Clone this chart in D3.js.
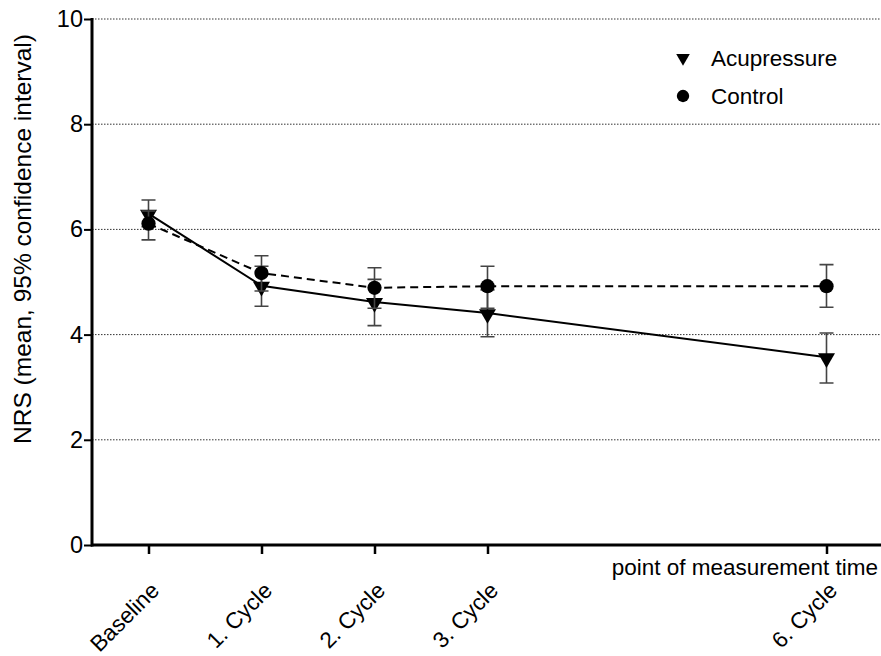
<!DOCTYPE html>
<html>
<head>
<meta charset="utf-8">
<script src="https://cdn.jsdelivr.net/npm/d3@7"></script>
<style>
  body { margin: 0; background: #fff; }
  text { font-family: "Liberation Sans", Arial, sans-serif; fill: #000; }
</style>
</head>
<body>
<script>
'use strict';

// time points (cycle number) and their labels
const cycles = [0, 1, 2, 3, 6];
const cycleLabels = ["Baseline", "1. Cycle", "2. Cycle", "3. Cycle", "6. Cycle"];

// Acupressure: mean and 95% CI
const acuMean = [6.30, 4.93, 4.62, 4.41, 3.57];
const acuLow  = [6.05, 4.54, 4.17, 3.96, 3.08];
const acuHigh = [6.56, 5.30, 5.05, 4.85, 4.03];

// Control: mean and 95% CI
const ctlMean = [6.11, 5.17, 4.89, 4.92, 4.92];
const ctlLow  = [5.80, 4.83, 4.50, 4.50, 4.52];
const ctlHigh = [6.35, 5.50, 5.27, 5.30, 5.33];

const yTicks = [0, 2, 4, 6, 8, 10];

const W = 881, H = 656, FS = "22.5px";
const svg = d3.select("body").append("svg")
    .attr("width", W)
    .attr("height", H);

const x = d3.scaleLinear().domain([-0.5, 6.5]).range([92, 883]);
const y = d3.scaleLinear().domain([0, 10]).range([545, 19]);

// dotted grid lines
svg.selectAll(".grid")
    .data(yTicks.filter(d => d > 0))
    .enter().append("line")
    .attr("x1", 92).attr("x2", W)
    .attr("y1", d => y(d)).attr("y2", d => y(d))
    .attr("stroke", "#333")
    .attr("stroke-width", 1)
    .attr("stroke-dasharray", "1.5,1.5");

// y axis
let yAxis = svg.append("g")
    .attr("transform", "translate(92,0)")
    .call(d3.axisLeft(y).tickValues(yTicks).tickSize(8).tickPadding(1).tickFormat(d3.format("d")));
yAxis.select(".domain").attr("stroke", "#000").attr("stroke-width", 3)
    .attr("d", "M0," + (y(10) - 1) + "V" + (y(0) + 1.5));
yAxis.selectAll(".tick line").attr("stroke", "#000").attr("stroke-width", 2);
yAxis.selectAll(".tick text").style("font-size", "23.5px")
    .style("font-family", "Liberation Sans, Arial, sans-serif");

// x axis
let xAxis = svg.append("g")
    .attr("transform", "translate(0," + y(0) + ")")
    .call(d3.axisBottom(x).tickValues(cycles).tickSize(9).tickFormat(""));
xAxis.select(".domain").attr("stroke", "#000").attr("stroke-width", 3)
    .attr("d", "M91,0H" + W);
xAxis.selectAll(".tick line").attr("stroke", "#000").attr("stroke-width", 2.5);

svg.selectAll(".xlab")
    .data(cycles)
    .enter().append("text")
    .attr("transform", d => "translate(" + (x(d) + 12) + ",592) rotate(-45)")
    .attr("text-anchor", "end")
    .style("font-size", FS)
    .text((d, i) => cycleLabels[i]);

svg.append("text")
    .attr("x", 878).attr("y", 575)
    .attr("text-anchor", "end")
    .style("font-size", FS)
    .text("point of measurement time");

svg.append("text")
    .attr("transform", "translate(31,239) rotate(-90)")
    .attr("text-anchor", "middle")
    .style("font-size", "24.5px")
    .text("NRS (mean, 95% confidence interval)");

// series
const series = [
    { name: "Acupressure", mean: acuMean, low: acuLow, high: acuHigh, dash: null, sym: d3.symbolTriangle, rot: 180 },
    { name: "Control", mean: ctlMean, low: ctlLow, high: ctlHigh, dash: "8,5", sym: d3.symbolCircle, rot: 0 }
];

const line = d3.line().x(d => x(d[0])).y(d => y(d[1]));

series.forEach(s => {
    let g = svg.append("g");
    let pts = cycles.map((c, i) => [c, s.mean[i], s.low[i], s.high[i]]);

    // error bars
    g.selectAll(".eb").data(pts).enter().append("path")
        .attr("d", d => "M" + x(d[0]) + "," + y(d[2]) + "V" + y(d[3]) +
            "M" + (x(d[0]) - 7) + "," + y(d[2]) + "h14" +
            "M" + (x(d[0]) - 7) + "," + y(d[3]) + "h14")
        .attr("stroke", "#444")
        .attr("stroke-width", 1.6)
        .attr("fill", "none");

    g.append("path")
        .datum(pts)
        .attr("d", line)
        .attr("fill", "none")
        .attr("stroke", "#000")
        .attr("stroke-width", 2)
        .attr("stroke-dasharray", s.dash);

    g.selectAll(".pt").data(pts).enter().append("path")
        .attr("d", d3.symbol().type(s.sym).size(s.sym === d3.symbolCircle ? 160 : 125))
        .attr("transform", d => "translate(" + x(d[0]) + "," + (y(d[1]) + (s.rot ? 1 : 0)) + ") rotate(" + s.rot + ")")
        .attr("fill", "#000");
});

// legend
const legend = svg.append("g");
series.forEach((s, i) => {
    let ly = 58 + i * 38;
    legend.append("path")
        .attr("d", d3.symbol().type(s.sym).size(s.sym === d3.symbolCircle ? 120 : 80))
        .attr("transform", "translate(683," + ly + ") rotate(" + s.rot + ")")
        .attr("fill", "#000");
    legend.append("text")
        .attr("x", 711).attr("y", ly + 8)
        .style("font-size", FS)
        .text(s.name);
});
</script>
</body>
</html>
